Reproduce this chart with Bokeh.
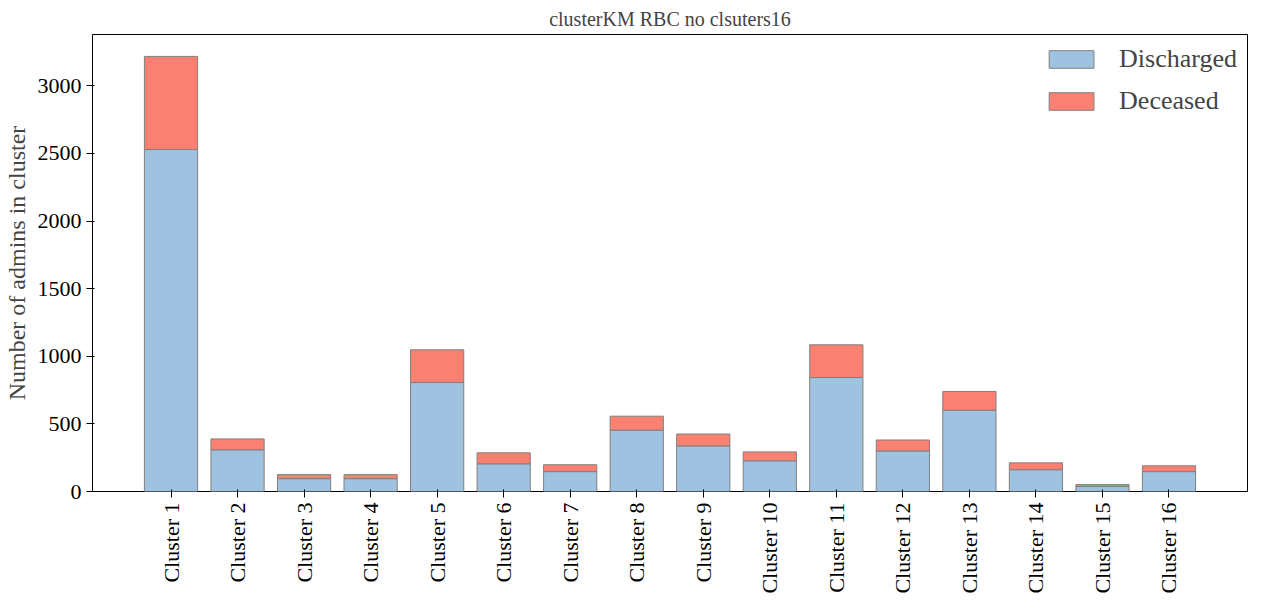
from bokeh.plotting import figure
from bokeh.models import Range1d, FactorRange, Legend, LegendItem
from bokeh.embed import file_html
from bokeh.resources import INLINE

clusters = [f"Cluster {i}" for i in range(1, 17)]
discharged = [2529, 308, 95, 95, 806, 205, 147, 454, 337, 227, 843, 300, 601, 161, 37, 147]
deceased_total = [3218, 389, 125, 125, 1048, 286, 198, 557, 425, 293, 1085, 381, 740, 212, 51, 190]
deceased = [t - d for t, d in zip(deceased_total, discharged)]

FONT = "Liberation Serif"
p = figure(width=1255, height=596, x_range=FactorRange(*clusters, range_padding=0.085),
           y_range=Range1d(0, 3380), output_backend="svg", toolbar_location=None,
           title="clusterKM RBC no clsuters16", min_border_left=90, min_border_right=8)
src = dict(x=clusters, Discharged=discharged, Deceased=deceased)
rs = p.vbar_stack(["Discharged", "Deceased"], x="x", width=0.8, source=src,
                  color=["#9fc2e0", "#fa8072"], line_color="#808080", line_width=1)
p.title.text_font = FONT
p.title.text_font_size = "20px"
p.title.text_font_style = "normal"
p.title.align = "center"
p.xgrid.visible = False
p.ygrid.visible = False
p.outline_line_color = "black"
p.yaxis.axis_label = "Number of admins in cluster"
for ax in (p.xaxis, p.yaxis):
    ax.axis_label_text_font = FONT
    ax.major_label_text_font = FONT
    ax.major_label_text_font_size = "22px"
    ax.minor_tick_line_color = None
    ax.major_label_text_color = "black"
    ax.axis_line_color = None
p.yaxis.axis_label_text_font_size = "24px"
p.yaxis.axis_label_text_font_style = "normal"
p.yaxis.ticker = [0, 500, 1000, 1500, 2000, 2500, 3000]
p.xaxis.major_label_orientation = 1.5708
legend = Legend(items=[LegendItem(label="Discharged", renderers=[rs[0]]),
                       LegendItem(label="Deceased", renderers=[rs[1]])],
                location="top_right", border_line_color=None,
                label_text_font=FONT, label_text_font_size="26px",
                glyph_width=56, glyph_height=22, spacing=12, label_standoff=20)
p.add_layout(legend)
open("out.html", "w").write(file_html(p, INLINE))
